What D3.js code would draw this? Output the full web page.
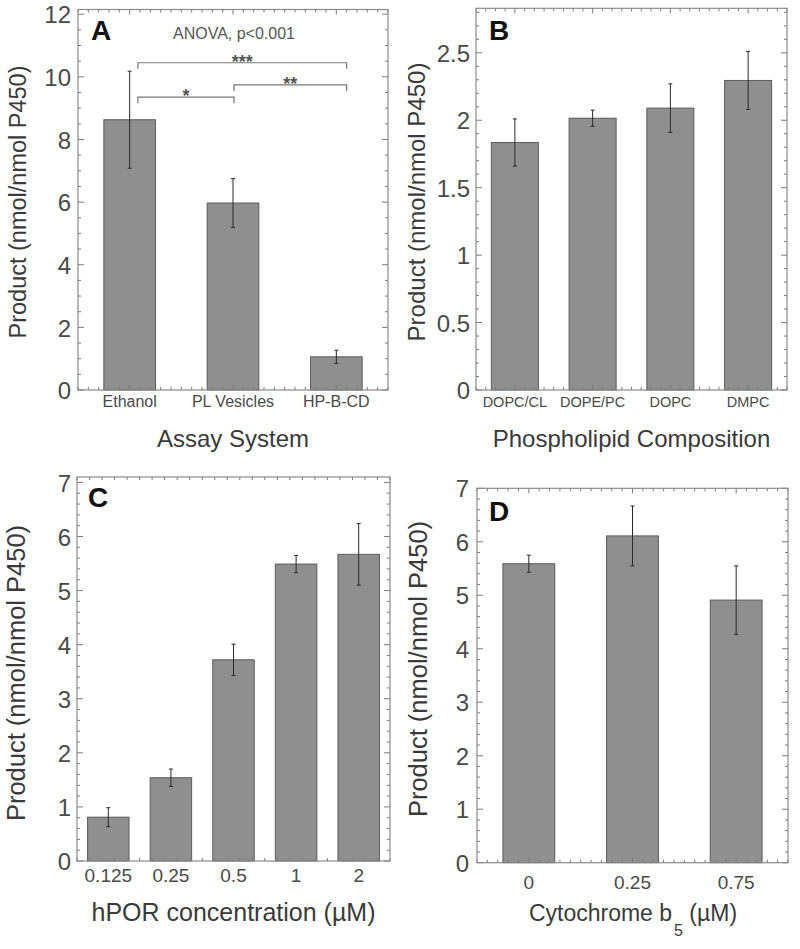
<!DOCTYPE html>
<html>
<head>
<meta charset="utf-8">
<script src="https://cdn.jsdelivr.net/npm/d3@7"></script>
<style>
  html, body { margin: 0; padding: 0; background: #fff; }
  svg { display: block; font-family: "Liberation Sans", Arial, Helvetica, sans-serif; }
</style>
</head>
<body>
<svg id="chart" width="800" height="949"></svg>
<script>
// ---------- DATA ----------
const catsA = ["Ethanol", "PL Vesicles", "HP-B-CD"];
const valsA = [8.63, 5.97, 1.06];
const errA  = [1.55, 0.78, 0.21];
const yTicksA = [0, 2, 4, 6, 8, 10, 12];

const catsB = ["DOPC/CL", "DOPE/PC", "DOPC", "DMPC"];
const valsB = [1.835, 2.015, 2.09, 2.295];
const errB  = [0.175, 0.06, 0.18, 0.215];
const yTicksB = [0, 0.5, 1, 1.5, 2, 2.5];

const catsC = ["0.125", "0.25", "0.5", "1", "2"];
const valsC = [0.81, 1.54, 3.72, 5.49, 5.67];
const errC  = [0.175, 0.16, 0.29, 0.16, 0.57];
const yTicksC = [0, 1, 2, 3, 4, 5, 6, 7];

const catsD = ["0", "0.25", "0.75"];
const valsD = [5.59, 6.11, 4.91];
const errD  = [0.16, 0.56, 0.64];
const yTicksD = [0, 1, 2, 3, 4, 5, 6, 7];

// significance brackets in panel A (positions in category units, y in data units)
const bracketX1 = [0.58, 0.58, 1.51];
const bracketX2 = [2.60, 1.51, 2.60];
const bracketY  = [10.45, 9.35, 9.74];
const bracketLabels = ["***", "*", "**"];
const anovaText = "ANOVA, p<0.001";

// ---------- DRAW ----------
const svg = d3.select("#chart");
const FONT_TICK = "#4a4a4a", FONT_TITLE = "#3a3a3a";

function panel(o) {
  const g = svg.append("g");
  const x = d3.scaleBand().domain(o.cats).range([o.x0, o.x1])
    .paddingInner(o.pad).paddingOuter(o.pad / 2);
  const y = d3.scaleLinear().domain([0, o.yMax]).range([o.y1, o.y0]);
  const xl = d3.scaleLinear().domain([0, o.cats.length]).range([o.x0, o.x1]);

  // bars
  g.selectAll("rect.bar").data(o.vals).enter().append("rect")
    .attr("x", (d, i) => x(o.cats[i]))
    .attr("width", x.bandwidth())
    .attr("y", d => y(d))
    .attr("height", d => y(0) - y(d))
    .attr("fill", "#8f8f8f")
    .attr("stroke", "#5c5c5c")
    .attr("stroke-width", 1);

  // error bars
  const eb = g.selectAll("g.err").data(o.vals).enter().append("g")
    .attr("stroke", "#2a2a2a").attr("stroke-width", 1);
  eb.append("line")
    .attr("x1", (d, i) => x(o.cats[i]) + x.bandwidth() / 2)
    .attr("x2", (d, i) => x(o.cats[i]) + x.bandwidth() / 2)
    .attr("y1", (d, i) => y(d + o.errs[i]))
    .attr("y2", (d, i) => y(d - o.errs[i]));
  [1, -1].forEach(s => {
    eb.append("line")
      .attr("x1", (d, i) => x(o.cats[i]) + x.bandwidth() / 2 - 2)
      .attr("x2", (d, i) => x(o.cats[i]) + x.bandwidth() / 2 + 2)
      .attr("y1", (d, i) => y(d + s * o.errs[i]))
      .attr("y2", (d, i) => y(d + s * o.errs[i]));
  });

  // inner ticks: left/right
  const yMinor = d3.range(0, o.yMax + 1e-9, o.yMinorStep);
  const tg = g.append("g").attr("stroke", "#7a7a7a").attr("stroke-width", 1);
  yMinor.forEach(v => {
    const isMajor = o.yTicks.some(t => Math.abs(t - v) < 1e-9);
    const len = isMajor ? 6 : 3;
    tg.append("line").attr("x1", o.x0).attr("x2", o.x0 + len).attr("y1", y(v)).attr("y2", y(v));
    tg.append("line").attr("x1", o.x1).attr("x2", o.x1 - len).attr("y1", y(v)).attr("y2", y(v));
  });
  // inner ticks: top/bottom
  d3.range(0, o.cats.length + 1e-9, o.xMinorStep).forEach(v => {
    const isMajor = Math.abs(v - Math.round(v - 0.5) - 0.5) < 1e-9;
    const len = isMajor ? 5 : 3;
    tg.append("line").attr("x1", xl(v)).attr("x2", xl(v)).attr("y1", o.y1).attr("y2", o.y1 - len);
    tg.append("line").attr("x1", xl(v)).attr("x2", xl(v)).attr("y1", o.y0).attr("y2", o.y0 + len);
  });

  // frame
  g.append("rect").attr("x", o.x0).attr("y", o.y0)
    .attr("width", o.x1 - o.x0).attr("height", o.y1 - o.y0)
    .attr("fill", "none").attr("stroke", "#8a8a8a").attr("stroke-width", 1.2);

  // y tick labels via axis
  const ay = g.append("g").attr("transform", `translate(${o.x0},0)`)
    .call(d3.axisLeft(y).tickValues(o.yTicks).tickSize(0).tickPadding(o.yLabelGap)
      .tickFormat(d3.format("~g")));
  ay.attr("font-family", null).attr("font-size", null);
  ay.select(".domain").remove();
  ay.selectAll("text").attr("font-size", o.yTickFont).attr("fill", FONT_TICK)
    .attr("dy", "0.36em");

  // x tick labels via axis
  const ax = g.append("g").attr("transform", `translate(0,${o.y1})`)
    .call(d3.axisBottom(x).tickSize(0).tickPadding(0));
  ax.attr("font-family", null).attr("font-size", null);
  ax.select(".domain").remove();
  ax.selectAll("text").attr("font-size", o.xTickFont).attr("fill", FONT_TICK)
    .attr("dy", null).attr("y", o.xLabelBase - o.y1);

  // y title
  g.append("text")
    .attr("transform", `translate(${o.yTitleX},${o.yTitleY}) rotate(-90)`)
    .attr("text-anchor", "middle").attr("dominant-baseline", "central")
    .attr("font-size", o.yTitleFont).attr("fill", FONT_TITLE)
    .text("Product (nmol/nmol P450)");

  // panel letter
  g.append("text").attr("x", o.letterX).attr("y", o.letterY)
    .attr("font-size", 28).attr("font-weight", "bold").attr("fill", "#111")
    .text(o.letter);

  return { g, x, y, xl };
}

// Panel A
const pA = panel({
  cats: catsA, vals: valsA, errs: errA, yTicks: yTicksA, yMax: 12.15,
  x0: 78, x1: 388, y0: 9.5, y1: 390, pad: 0.5,
  yMinorStep: 0.5, xMinorStep: 0.1,
  yTickFont: 24, yLabelGap: 7, xTickFont: 16, xLabelBase: 407,
  yTitleX: 18, yTitleY: 202, yTitleFont: 23.5,
  letter: "A", letterX: 91, letterY: 40
});
pA.g.append("text").attr("x", (78 + 388) / 2).attr("y", 447)
  .attr("text-anchor", "middle").attr("font-size", 24).attr("fill", FONT_TITLE)
  .text("Assay System");
pA.g.append("text").attr("x", 234).attr("y", 39)
  .attr("text-anchor", "middle").attr("font-size", 16).attr("fill", "#555")
  .text(anovaText);
bracketY.forEach((by, i) => {
  const x1 = pA.xl(bracketX1[i]), x2 = pA.xl(bracketX2[i]), yy = pA.y(by);
  pA.g.append("path")
    .attr("d", `M${x1},${yy + 6}V${yy}H${x2}V${yy + 6}`)
    .attr("fill", "none").attr("stroke", "#777").attr("stroke-width", 1.2);
  pA.g.append("text").attr("x", (x1 + x2) / 2).attr("y", yy + 5)
    .attr("text-anchor", "middle").attr("font-size", 18).attr("font-weight", "bold")
    .attr("fill", "#555")
    .text(bracketLabels[i]);
});

// Panel B
const pB = panel({
  cats: catsB, vals: valsB, errs: errB, yTicks: yTicksB, yMax: 2.83,
  x0: 476, x1: 787, y0: 8.3, y1: 390, pad: 0.395,
  yMinorStep: 0.1, xMinorStep: 0.125,
  yTickFont: 24, yLabelGap: 6, xTickFont: 14.5, xLabelBase: 407,
  yTitleX: 416, yTitleY: 202, yTitleFont: 24,
  letter: "B", letterX: 489, letterY: 40
});
pB.g.append("text").attr("x", (476 + 787) / 2).attr("y", 447)
  .attr("text-anchor", "middle").attr("font-size", 24).attr("fill", FONT_TITLE)
  .text("Phospholipid Composition");

// Panel C
const pC = panel({
  cats: catsC, vals: valsC, errs: errC, yTicks: yTicksC, yMax: 7.1,
  x0: 77, x1: 390, y0: 477, y1: 861, pad: 0.337,
  yMinorStep: 0.2, xMinorStep: 0.2,
  yTickFont: 24, yLabelGap: 6, xTickFont: 19, xLabelBase: 882,
  yTitleX: 16, yTitleY: 673, yTitleFont: 25.5,
  letter: "C", letterX: 88, letterY: 507
});
pC.g.append("text").attr("x", (77 + 390) / 2).attr("y", 921)
  .attr("text-anchor", "middle").attr("font-size", 25).attr("fill", FONT_TITLE)
  .text("hPOR concentration (µM)");

// Panel D
const pD = panel({
  cats: catsD, vals: valsD, errs: errD, yTicks: yTicksD, yMax: 7,
  x0: 477, x1: 788, y0: 488.3, y1: 862.7, pad: 0.5,
  yMinorStep: 0.2, xMinorStep: 0.1,
  yTickFont: 24, yLabelGap: 8, xTickFont: 19, xLabelBase: 889,
  yTitleX: 418, yTitleY: 669, yTitleFont: 25.5,
  letter: "D", letterX: 489, letterY: 521
});
const tD = pD.g.append("text").attr("x", 633).attr("y", 921)
  .attr("text-anchor", "middle").attr("font-size", 23).attr("fill", FONT_TITLE);
tD.append("tspan").text("Cytochrome b");
tD.append("tspan").attr("dy", 15).attr("dx", 2).attr("font-size", 16).text("5");
tD.append("tspan").attr("dy", -15).text(" (µM)");
</script>
</body>
</html>
